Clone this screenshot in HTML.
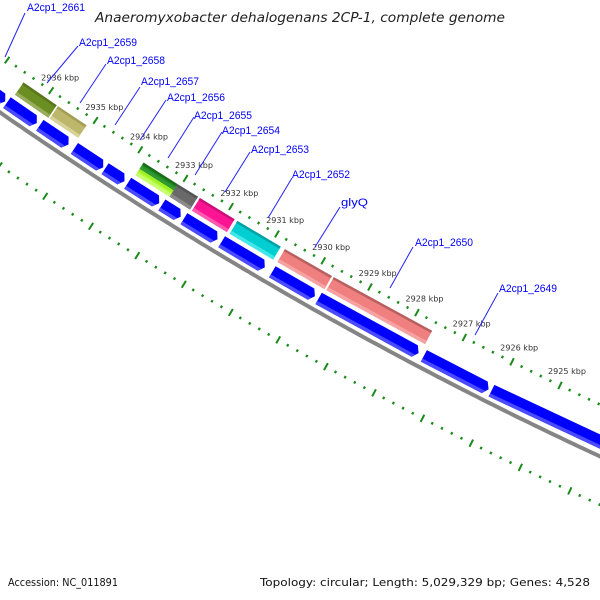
<!DOCTYPE html>
<html><head><meta charset="utf-8"><style>
html,body{margin:0;padding:0;background:#fff;}
svg{display:block;}
</style></head><body>
<svg id="chart" width="600" height="600" viewBox="0 0 600 600" xmlns="http://www.w3.org/2000/svg">
<rect width="600" height="600" fill="#fff"/>
<text x="95" y="22" textLength="410" lengthAdjust="spacingAndGlyphs" font-family="DejaVu Sans, sans-serif" font-style="italic" font-size="13" fill="#222">Anaeromyxobacter dehalogenans 2CP-1, complete genome</text>
<g id="plot"></g>
<text x="8" y="586" textLength="110" lengthAdjust="spacingAndGlyphs" font-family="DejaVu Sans, sans-serif" font-size="11" fill="#111">Accession: NC_011891</text>
<text x="590" y="586" text-anchor="end" textLength="330" lengthAdjust="spacingAndGlyphs" font-family="DejaVu Sans, sans-serif" font-size="11" fill="#111">Topology: circular; Length: 5,029,329 bp; Genes: 4,528</text>
</svg>
<script>
// ---- data (kbp) ----
const featStart=[2936.51,2935.73,2933.82,2933.82,2933.07,2932.58,2931.76,2930.73,2929.68];
const featEnd=[2935.76,2935.09,2933.07,2933.07,2932.62,2931.82,2930.82,2929.72,2927.59];
const geneStart=[2938.5,2936.55,2935.81,2935.04,2934.36,2933.86,2933.11,2932.63,2931.81,2930.72,2929.73,2927.51,2926.10];
const geneEnd=[2936.59,2935.88,2935.17,2934.40,2933.93,2933.17,2932.70,2931.90,2930.88,2929.81,2927.62,2926.16,2922.0];
const tickLabels=[2925,2926,2927,2928,2929,2930,2931,2932,2933,2934,2935,2936];
const labelNames=['A2cp1_2661','A2cp1_2659','A2cp1_2658','A2cp1_2657','A2cp1_2656','A2cp1_2655','A2cp1_2654','A2cp1_2653','A2cp1_2652','glyQ','A2cp1_2650','A2cp1_2649'];

// ---- styling / layout ----
const featStyle=[
 {b:'#6b8e23',t:'#587619',l:'#98ad5c',r0:3968,r1:3983},
 {b:'#bdb76b',t:'#a39d55',l:'#d6d29a',r0:3968,r1:3983},
 {b:'#228b22',t:'#1a6e1a',l:'#2f9a2f',r0:3968,r1:3975.5},
 {b:'#adff2f',t:'#a0ee28',l:'#c8ff70',r0:3975.5,r1:3983},
 {b:'#696969',t:'#555',l:'#8a8a8a',r0:3968,r1:3983},
 {b:'#ff1493',t:'#c8107a',l:'#ff5aaf',r0:3968,r1:3983},
 {b:'#00ced1',t:'#00a2a5',l:'#40e6e8',r0:3968,r1:3983},
 {b:'#f08080',t:'#b86060',l:'#f6a2a2',r0:3968,r1:3983},
 {b:'#f08080',t:'#b86060',l:'#f6a2a2',r0:3968,r1:3983}];
const labelPos=[[27,11,25,13,5,57],[79,46,78,46,47,83],[107,64,106,64,80,103],[141,85,140,87,115,125],[167,101,166,100,140,140],[194,119,194,117,168,158],[222,134,222,132,195,175],[251,153,250,152,225,192],[292,178,292,178,268,218],[341,206,340,207,315,247],[415,246,413,247,390,288],[499,292,498,293,475,335]];
const CX=2285, CY=-3178, A0=124.35, DEG=0.7745;
function pt(k,r){const a=(A0-(2936-k)*DEG)*Math.PI/180;return [CX+r*Math.cos(a),CY+r*Math.sin(a)];}
const NS='http://www.w3.org/2000/svg';
const plot=document.getElementById('plot');
function poly(pts,fill){const p=document.createElementNS(NS,'polygon');p.setAttribute('points',pts.map(q=>q[0].toFixed(1)+','+q[1].toFixed(1)).join(' '));p.setAttribute('fill',fill);plot.appendChild(p);return p;}
function box(k1,k2,r0,r1){return [pt(k1,r0),pt(k2,r0),pt(k2,r1),pt(k1,r1)];}

// tick rings
[3959,4050].forEach((R,ri)=>{
  for(let i=0;i<=100;i++){
    const k=2920+i*0.2;const major=(i%5===0);
    const h=major?4:1.3;
    const a=pt(k,R-h),b=pt(k,R+h);
    const l=document.createElementNS(NS,'line');
    l.setAttribute('x1',a[0]);l.setAttribute('y1',a[1]);l.setAttribute('x2',b[0]);l.setAttribute('y2',b[1]);
    l.setAttribute('stroke','#1a8a1a');l.setAttribute('stroke-width',major?2:2.2);
    
    
    plot.appendChild(l);
  }
});
// tick labels
tickLabels.forEach(k=>{
  const c=pt(k,3943);
  const t=document.createElementNS(NS,'text');
  t.setAttribute('x',c[0].toFixed(1));t.setAttribute('y',(c[1]+3).toFixed(1));
  t.setAttribute('text-anchor','middle');t.setAttribute('font-family','DejaVu Sans, sans-serif');
  t.setAttribute('font-size','8');t.setAttribute('fill','#333');
  t.setAttribute('textLength','38');t.setAttribute('lengthAdjust','spacingAndGlyphs');
  t.textContent=k+' kbp';
  
  
  plot.appendChild(t);
});
// backbone (gray arc)
{const pts=[];for(let k=2940;k>=2919;k-=0.1)pts.push(pt(k,4006));
 const pl=document.createElementNS(NS,'polyline');
 pl.setAttribute('points',pts.map(q=>q[0].toFixed(1)+','+q[1].toFixed(1)).join(' '));
 pl.setAttribute('fill','none');pl.setAttribute('stroke','#858585');pl.setAttribute('stroke-width','4');
 
 
 plot.appendChild(pl);}
// blue genes (arrows)
geneStart.forEach((s,i)=>{
  const e=geneEnd[i];const r0=3987.5,r1=4000.5,rm=3994,ah=0.08;
  const g=document.createElementNS(NS,'g');
  
  
  plot.appendChild(g);
  const p=poly([pt(s,r0),pt(e+ah,r0),pt(e,rm),pt(e+ah,r1),pt(s,r1)],'#0000ff');g.appendChild(p);
  const q=poly([pt(s,r1-3.5),pt(e+ah*0.55,r1-3.5),pt(e+ah,r1),pt(s,r1)],'#4a4aff');g.appendChild(q);
});
// colored features
featStart.forEach((s,i)=>{
  const e=featEnd[i];const st=featStyle[i];
  const g=document.createElementNS(NS,'g');
  
  
  plot.appendChild(g);
  g.appendChild(poly(box(s,e,st.r0,st.r1),st.b));
  g.appendChild(poly(box(s,e,st.r0,st.r0+2.5),st.t));
  g.appendChild(poly(box(s,e,st.r1-3.5,st.r1),st.l));
});
// gene labels + leader lines
labelNames.forEach((n,i)=>{
  const L=labelPos[i];
  const ln=document.createElementNS(NS,'line');
  ln.setAttribute('x1',L[2]);ln.setAttribute('y1',L[3]);ln.setAttribute('x2',L[4]);ln.setAttribute('y2',L[5]);
  ln.setAttribute('stroke','#2222ff');ln.setAttribute('stroke-width','1');
  
  
  plot.appendChild(ln);
  const t=document.createElementNS(NS,'text');
  t.setAttribute('x',L[0]);t.setAttribute('y',L[1]);
  t.setAttribute('font-family','Liberation Sans, sans-serif');t.setAttribute('font-size','11');
  t.setAttribute('fill','#0000ff');
  t.setAttribute('textLength',n==='glyQ'?'27':'58');t.setAttribute('lengthAdjust','spacingAndGlyphs');
  t.textContent=n;
  
  
  plot.appendChild(t);
});
</script>
</body></html>
